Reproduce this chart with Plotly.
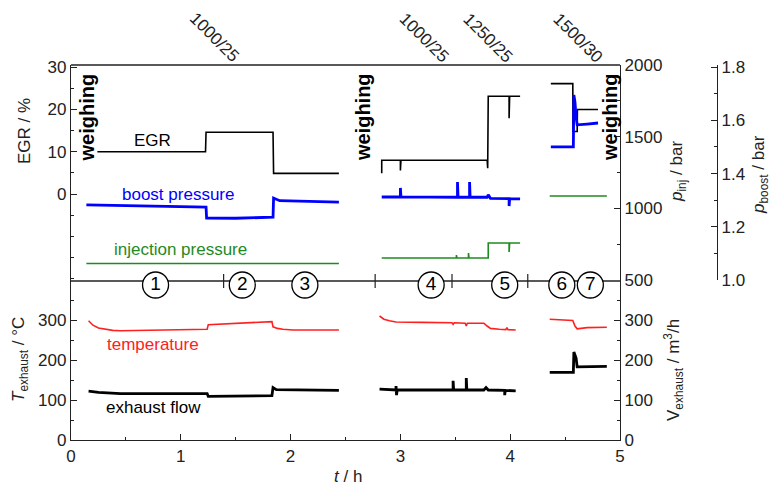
import plotly.graph_objects as go

# ---------------- data ----------------
# EGR / %  (top panel, left axis)
t_egr = [0.24, 1.225, 1.23, 1.84, 1.845, 2.44, None,
         2.83, 2.83, 3.0, 3.0, 3.005, 3.79, 3.795, 3.80, 3.99, 3.99, 3.995, 4.09, None,
         4.37, 4.57, 4.572, 4.61, 4.612, 4.80]
egr = [10.0, 10.0, 14.6, 14.6, 4.9, 4.9, None,
       4.9, 8.0, 8.0, 5.6, 8.0, 8.0, 6.1, 23.1, 23.1, 17.9, 23.1, 23.1, None,
       26.1, 26.1, 14.8, 14.8, 20.0, 20.0]

# boost pressure / bar (top panel, outer right axis)
t_boost = [0.14, 0.6, 1.23, 1.235, 1.5, 1.84, 1.845, 1.9, 2.44, None,
           2.83, 3.0, 3.0, 3.005, 3.52, 3.52, 3.525, 3.63, 3.63, 3.635, 3.79, 3.80,
           3.82, 3.99, 3.99, 3.995, 4.09, None,
           4.37, 4.575, 4.58, 4.59, 4.60, 4.61, 4.70, 4.80]
p_boost = [1.282, 1.278, 1.274, 1.233, 1.232, 1.236, 1.308, 1.298, 1.293, None,
           1.312, 1.312, 1.346, 1.312, 1.311, 1.368, 1.311, 1.311, 1.368, 1.311, 1.311, 1.320,
           1.307, 1.306, 1.278, 1.306, 1.305, None,
           1.500, 1.500, 1.695, 1.668, 1.612, 1.583, 1.586, 1.590]

# injection pressure / bar (top panel, inner right axis)
t_inj = [0.14, 2.44, None,
         2.83, 3.51, 3.51, 3.515, 3.62, 3.62, 3.625, 3.80, 3.80, 3.99, 3.99, 3.995, 4.09, None,
         4.36, 4.88]
p_inj = [615, 615, None,
         653, 653, 674, 653, 653, 688, 653, 653, 758, 758, 695, 758, 758, None,
         1086, 1086]

# exhaust temperature / degC (bottom panel, left axis)
t_temp = [0.16, 0.2, 0.25, 0.3, 0.38, 0.45, 0.8, 1.24, 1.25, 1.4, 1.6, 1.83, 1.84, 1.88, 1.93, 2.02, 2.44, None,
          2.81, 2.85, 2.9, 2.96, 3.2, 3.47, 3.48, 3.49, 3.59, 3.60, 3.61, 3.76, 3.79, 3.82, 3.9,
          3.96, 3.97, 3.98, 4.05, None,
          4.36, 4.57, 4.59, 4.61, 4.7, 4.88]
temp = [298, 287, 280, 277, 274, 273, 275, 277, 288, 290, 293, 296, 283, 279, 277, 275, 275, None,
        310, 302, 298, 295, 294, 293, 289, 293, 292, 285, 292, 292, 285, 279, 277,
        276, 281, 276, 275, None,
        302, 299, 285, 278, 281, 282]

# exhaust flow / m3/h (bottom panel, right axis)
t_flow = [0.16, 0.25, 0.45, 1.24, 1.25, 1.83, 1.84, 1.87, 2.44, None,
          2.81, 2.9, 2.96, 2.96, 2.965, 2.97, 3.48, 3.48, 3.485, 3.60, 3.60, 3.605, 3.76, 3.78, 3.80,
          3.95, 3.95, 3.955, 4.05, None,
          4.36, 4.575, 4.58, 4.60, 4.61, 4.70, 4.88]
flow = [122, 119, 116, 116, 109, 111, 131, 126, 124, None,
        127, 125, 125, 135, 112, 125, 125, 148, 125, 125, 155, 125, 125, 131, 125,
        124, 112, 124, 123, None,
        169, 169, 220, 205, 183, 183, 184]

# operating phases
phase_t = [0.77, 1.56, 2.13, 3.28, 3.95, 4.47, 4.73]
phase_labels = ["1", "2", "3", "4", "5", "6", "7"]
phase_breaks = [1.39, 2.77, 3.47, 4.16]
condition_t = [1.31, 3.21, 3.79, 4.61]
condition_labels = ["1000/25", "1000/25", "1250/25", "1500/30"]
weighing_t = [0.15, 2.66, 4.91]

x_ticks = [0, 1, 2, 3, 4, 5]
T_ticks = [0, 100, 200, 300]
V_ticks = [0, 100, 200, 300]
egr_ticks = [0, 10, 20, 30]
inj_ticks = [500, 1000, 1500, 2000]
boost_ticks = [1.0, 1.2, 1.4, 1.6, 1.8]

# ---------------- layout geometry ----------------
# the page body adds an 8 px offset, so the figure is 8 px smaller and
# all pixel positions below are page coordinates converted with OFF.
OFF = 8
W, H = 772, 486
ML, MR, MT, MB = 71 - OFF, 63, 65 - OFF, 54
PW = W - ML - MR
PH = H - MT - MB


def px(x):
    return (x - OFF - ML) / PW


def py(y):
    return (H - MB - (y - OFF)) / PH


XD = px(620)
SPLIT = py(280)
FONT = "Liberation Sans, Arial, sans-serif"
AX = "#222222"

fig = go.Figure()
fig.add_trace(go.Scatter(x=t_egr, y=egr, xaxis="x", yaxis="y2", mode="lines",
                         line=dict(color="black", width=1.6), hoverinfo="skip"))
fig.add_trace(go.Scatter(x=t_inj, y=p_inj, xaxis="x", yaxis="y3", mode="lines",
                         line=dict(color="#1f8a1f", width=1.6), hoverinfo="skip"))
fig.add_trace(go.Scatter(x=t_boost, y=p_boost, xaxis="x", yaxis="y4", mode="lines",
                         line=dict(color="#0000ff", width=2.8), hoverinfo="skip"))
fig.add_trace(go.Scatter(x=t_temp, y=temp, xaxis="x", yaxis="y", mode="lines",
                         line=dict(color="#ff2020", width=1.6), hoverinfo="skip"))
fig.add_trace(go.Scatter(x=t_flow, y=flow, xaxis="x", yaxis="y5", mode="lines",
                         line=dict(color="black", width=2.8), hoverinfo="skip"))
fig.add_trace(go.Scatter(x=phase_t, y=[387.5] * len(phase_t), xaxis="x", yaxis="y",
                         mode="markers+text", text=phase_labels, textposition="middle center",
                         textfont=dict(family=FONT, size=19, color="black"),
                         marker=dict(size=26, color="white", line=dict(color="black", width=1.3)),
                         cliponaxis=False, hoverinfo="skip"))

tick_common = dict(ticks="inside", ticklen=6, tickwidth=1.2, tickcolor=AX, showline=True,
                   linecolor=AX, linewidth=1.3, showgrid=False, zeroline=False,
                   tickfont=dict(family=FONT, size=17, color="#222"))
minor_common = dict(ticks="inside", ticklen=3, tickwidth=1.1, tickcolor=AX, showgrid=False)

fig.update_layout(
    width=W, height=H, margin=dict(l=ML, r=MR, t=MT, b=MB),
    paper_bgcolor="white", plot_bgcolor="white", showlegend=False,
    font=dict(family=FONT, size=17, color="#222"),
    xaxis=dict(domain=[0, XD], range=[0, 5], anchor="y", tickvals=x_ticks,
               minor=dict(dtick=0.5, **minor_common), **tick_common),
    yaxis=dict(domain=[0, SPLIT], range=[0, 400], anchor="x", tickvals=T_ticks,
               minor=dict(dtick=50, **minor_common), **tick_common),
    yaxis5=dict(overlaying="y", side="right", range=[0, 400], anchor="x", tickvals=V_ticks,
                minor=dict(dtick=50, **minor_common), **tick_common),
    yaxis2=dict(domain=[SPLIT, 1], range=[-20.3, 30.5], anchor="x", tickvals=egr_ticks,
                minor=dict(dtick=5, **minor_common), **tick_common),
    yaxis3=dict(overlaying="y2", side="right", range=[500, 2000], anchor="x", tickvals=inj_ticks,
                minor=dict(dtick=250, **minor_common), **tick_common),
    yaxis4=dict(overlaying="y2", side="right", range=[1.0, 1.808], anchor="free", position=1.0,
                tickvals=boost_ticks, ticktext=[f"{v:.1f}" for v in boost_ticks],
                minor=dict(dtick=0.1, **minor_common), **tick_common),
)

shapes = [
    dict(type="line", xref="paper", yref="paper", x0=0, x1=XD, y0=1, y1=1,
         line=dict(color=AX, width=1.3), layer="below"),
    dict(type="line", xref="paper", yref="paper", x0=0, x1=XD, y0=py(281), y1=py(281),
         line=dict(color=AX, width=1.3), layer="below"),
]
for b in phase_breaks:
    shapes.append(dict(type="line", xref="x", yref="paper", x0=b, x1=b, y0=py(288), y1=py(274),
                       line=dict(color=AX, width=1.2), layer="below"))
fig.update_layout(shapes=shapes)

ann = []


def add(text, x, y, size=17, color="#222", angle=0, xref="paper", bold=False):
    ann.append(dict(text=(f"<b>{text}</b>" if bold else text), x=x, y=y, xref=xref, yref="paper",
                    showarrow=False, xanchor="center", yanchor="middle", textangle=angle,
                    font=dict(family=FONT, size=size, color=color)))


# axis titles
add("EGR / %", px(24), py(131), angle=-90)
add("<i>T</i><sub>exhaust</sub> / °C", px(20), py(360), angle=-90)
add("<i>p</i><sub>inj</sub> / bar", px(678), py(172), angle=-90)
add("<i>p</i><sub>boost</sub> / bar", px(760), py(175), angle=-90)
add("V<sub>exhaust</sub> / m<sup>3</sup>/h", px(673), py(370), angle=-90)
add("<i>t</i> / h", px(348), py(476))

# series labels
add("EGR", px(152), py(140), color="black")
add("boost pressure", px(178), py(194), color="#0000ff")
add("injection pressure", px(180), py(250), color="#1f8a1f")
add("temperature", px(153), py(345), color="#ff2020")
add("exhaust flow", px(153), py(407), color="black")

# operating conditions on top
cond_y = [37, 38, 38, 38]
for t, lab, yy in zip(condition_t, condition_labels, cond_y):
    add(lab, t, py(yy), size=17, angle=45, xref="x")

# weighing markers
for t in weighing_t:
    add("weighing", t, py(117), size=20, angle=-90, xref="x", bold=True, color="black")

fig.update_layout(annotations=ann)
fig.write_html("out.html")
